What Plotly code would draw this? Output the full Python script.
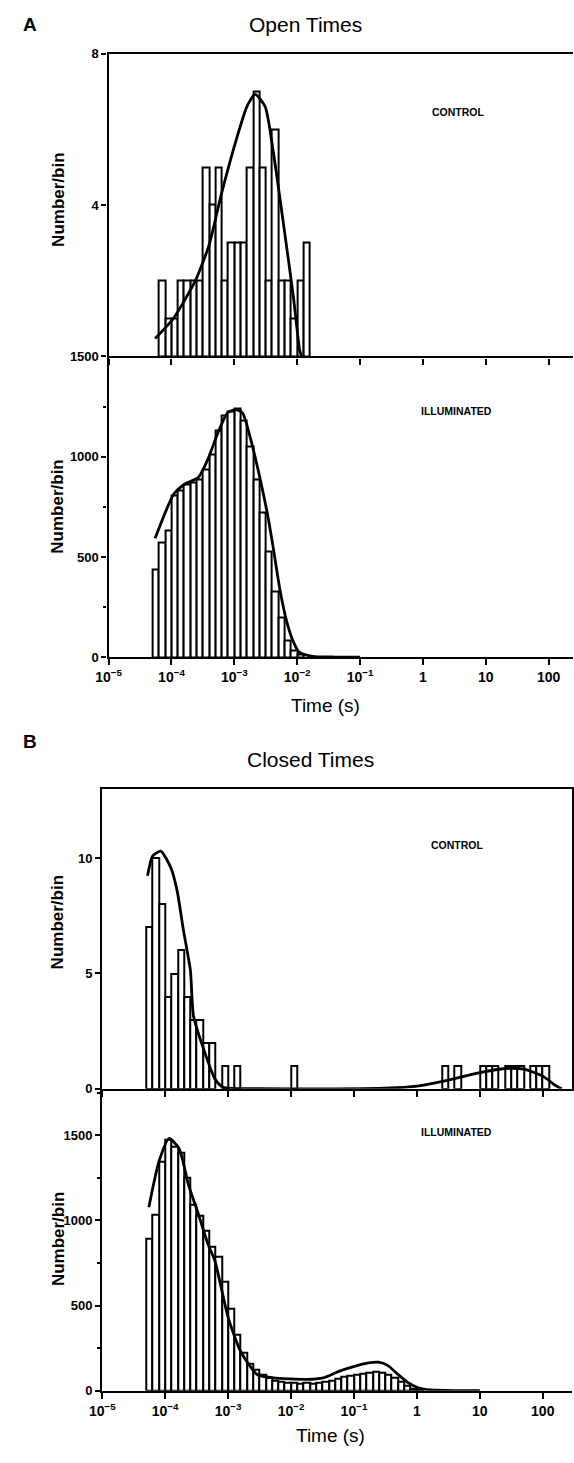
import numpy as np
import plotly.graph_objects as go

W, H = 574, 1463

# ---------------- data (x in log10 seconds) ----------------
BIN_WIDTH = 0.1  # decades per histogram bin

tick_exponents = [-5, -4, -3, -2, -1, 0, 1, 2]
tick_labels = ["10<sup>−5</sup>", "10<sup>−4</sup>", "10<sup>−3</sup>", "10<sup>−2</sup>",
               "10<sup>−1</sup>", "1", "10", "100"]

# Panel A - open times, control
open_ctrl_first_bin = -4.2
open_ctrl_counts = [2, 1, 1, 2, 2, 2, 2, 5, 4, 5, 2, 3, 3, 3, 5, 7, 5, 2, 6, 2, 2, 1, 2, 3]
open_ctrl_fit_logt = [-4.26, -3.97, -3.62, -3.40, -3.21, -2.95, -2.80, -2.67, -2.51, -2.38,
                      -2.21, -2.06, -1.96, -1.93]
open_ctrl_fit = [0.47, 1.0, 2.0, 2.95, 4.26, 5.83, 6.6, 6.92, 6.6, 5.4, 3.4, 1.57, 0.16, 0.0]

# Panel A - open times, illuminated
open_illum_first_bin = -4.3
open_illum_counts = [437, 575, 634, 806, 831, 862, 870, 887, 936, 1010, 1132, 1206, 1224, 1239,
                     1181, 1052, 887, 723, 526, 329, 198, 84, 34, 14]
open_illum_fit_logt = [-4.26, -3.96, -3.78, -3.57, -3.42, -3.26, -3.11, -2.98, -2.87, -2.74,
                       -2.59, -2.48, -2.38, -2.28, -2.17, -2.07, -1.97, -1.76, -1.4, -1.0]
open_illum_fit = [593, 815, 865, 898, 988, 1120, 1218, 1235, 1218, 1087,
                  890, 725, 544, 347, 183, 84, 26, 5, 1, 0]

# Panel B - closed times, control
closed_ctrl_first_bin = -4.3
closed_ctrl_counts = [7, 10, 8, 4, 5, 6, 4, 3, 3, 2, 2, 0, 1, 0, 1, 0, 0, 0, 0, 0,
                      0, 0, 0, 1, 0, 0, 0, 0, 0, 0, 0, 0, 0, 0, 0, 0, 0, 0, 0, 0,
                      0, 0, 0, 0, 0, 0, 0, 1, 0, 1, 0, 0, 0, 1, 1, 1, 0, 1, 1, 1,
                      0, 1, 1, 1]
closed_ctrl_fit_logt = [-4.28, -4.20, -4.07, -3.91, -3.81, -3.71, -3.60, -3.55, -3.37, -3.21,
                        -3.08, -2.5, -1.5, -0.5, 0.0, 0.5, 1.0, 1.4, 1.7, 2.0, 2.2, 2.3]
closed_ctrl_fit = [9.23, 10.09, 10.3, 9.58, 8.58, 6.87, 5.15, 3.15, 1.57, 0.43,
                   0.07, 0.01, 0.0, 0.03, 0.12, 0.38, 0.7, 0.88, 0.85, 0.55, 0.15, 0.0]

# Panel B - closed times, illuminated
closed_illum_first_bin = -4.3
closed_illum_counts = [890, 1035, 1345, 1471, 1432, 1400, 1250, 1093, 1025, 938, 843, 785,
                       640, 480, 330, 220, 160, 125, 95, 75, 60, 50, 45, 45, 42, 45, 42, 45,
                       50, 60, 70, 80, 90, 95, 100, 105, 110, 105, 95, 75, 50, 28, 12, 4]
closed_illum_fit_logt = [-4.26, -4.10, -3.94, -3.78, -3.63, -3.47, -3.32, -3.21, -3.0, -2.8,
                         -2.54, -2.28, -1.75, -1.49, -1.23, -0.98, -0.77, -0.61, -0.46, -0.30,
                         -0.14, 0.02, 0.22, 0.6, 1.0]
closed_illum_fit = [1077, 1345, 1481, 1423, 1209, 1035, 860, 763, 430, 230,
                    95, 75, 66, 75, 115, 144, 163, 167, 147, 95,
                    47, 17, 4, 0, 0]


def centers(first, counts):
    return [first + BIN_WIDTH * (i + 0.5) for i in range(len(counts))]


def py(p):  # pixel from top -> paper fraction
    return 1 - p / H


def px(p):
    return p / W


FONT = "Liberation Sans, Arial, sans-serif"

fig = go.Figure()

panels = [
    ("x", "y", open_ctrl_first_bin, open_ctrl_counts, open_ctrl_fit_logt, open_ctrl_fit),
    ("x2", "y2", open_illum_first_bin, open_illum_counts, open_illum_fit_logt, open_illum_fit),
    ("x3", "y3", closed_ctrl_first_bin, closed_ctrl_counts, closed_ctrl_fit_logt, closed_ctrl_fit),
    ("x4", "y4", closed_illum_first_bin, closed_illum_counts, closed_illum_fit_logt, closed_illum_fit),
]

for xa, ya, first, counts, fx, fy in panels:
    cts = [c if c > 0 else None for c in counts]
    fig.add_trace(go.Bar(
        x=centers(first, counts), y=cts, width=BIN_WIDTH,
        marker=dict(color="white", line=dict(color="black", width=2.0)),
        xaxis=xa, yaxis=ya, showlegend=False, hoverinfo="skip"))
    fig.add_trace(go.Scatter(
        x=fx, y=fy, mode="lines", line=dict(color="black", width=2.8, shape="spline", smoothing=0.6),
        xaxis=xa, yaxis=ya, showlegend=False, hoverinfo="skip", cliponaxis=False))

tickfont = dict(family=FONT, size=14, color="black")


def xaxis(domain, rng, labels, anchor, mirror=False):
    return dict(domain=domain, range=rng, anchor=anchor,
                tickmode="array", tickvals=tick_exponents,
                ticktext=[f"<b>{t}</b>" for t in tick_labels],
                showticklabels=labels,
                ticks="outside", ticklen=6, tickwidth=2, tickcolor="black",
                showline=True, linewidth=2.4, linecolor="black", mirror=mirror,
                showgrid=False, zeroline=False, tickfont=tickfont)


def yaxis(domain, rng, vals, anchor, minor=None, mirror=False):
    d = dict(domain=domain, range=rng, anchor=anchor,
             tickmode="array", tickvals=vals, ticktext=[f"<b>{v}</b>" for v in vals],
             ticks="outside", ticklen=5, tickwidth=2, tickcolor="black",
             showline=True, linewidth=2.4, linecolor="black", mirror=mirror,
             showgrid=False, zeroline=False, tickfont=dict(family=FONT, size=13, color="black"))
    if minor:
        d["minor"] = dict(dtick=minor, ticks="outside", ticklen=3, tickwidth=1.5, tickcolor="black")
    return d


A_dom = [px(98), 1.0]
A_rng = [-5, 2.388]
B_dom = [px(91.5), px(573)]
B_rng = [-5, 2.465]

fig.update_layout(
    width=W, height=H, margin=dict(l=0, r=0, t=0, b=0),
    paper_bgcolor="white", plot_bgcolor="white", bargap=0,
    xaxis=xaxis(A_dom, A_rng, False, "y", mirror=True),
    yaxis=yaxis([py(353), py(47)], [0, 8], [4, 8], "x"),
    xaxis2=xaxis(A_dom, A_rng, True, "y2"),
    yaxis2=yaxis([py(657), py(353)], [0, 1500], [0, 500, 1000, 1500], "x2", minor=250),
    xaxis3=xaxis(B_dom, B_rng, False, "y3", mirror=True),
    yaxis3=yaxis([py(1093), py(790)], [0, 13], [0, 5, 10], "x3", mirror=True),
    xaxis4=xaxis(B_dom, B_rng, True, "y4"),
    yaxis4=yaxis([py(1398), py(1093)], [0, 1773], [0, 500, 1000, 1500], "x4", minor=250),
)


def ann(text, x, y, size, bold=False, angle=0):
    fig.add_annotation(text=f"<b>{text}</b>" if bold else text, x=px(x), y=py(y),
                       xref="paper", yref="paper", xanchor="center", yanchor="middle",
                       showarrow=False, textangle=angle,
                       font=dict(family=FONT, size=size, color="black"))


ann("A", 17, 18, 19, bold=True)
ann("Open Times", 300, 18, 21)
ann("CONTROL", 456, 106, 10.5, bold=True)
ann("ILLUMINATED", 455, 408, 10.5, bold=True)
ann("Number/bin", 46, 195, 17, bold=True, angle=-90)
ann("Number/bin", 46, 505, 17, bold=True, angle=-90)
ann("Time (s)", 320, 706, 19)

ann("B", 17, 742, 19, bold=True)
ann("Closed Times", 305, 760, 21)
ann("CONTROL", 455, 847, 10.5, bold=True)
ann("ILLUMINATED", 455, 1137, 10.5, bold=True)
ann("Number/bin", 46, 925, 17, bold=True, angle=-90)
ann("Number/bin", 46, 1245, 17, bold=True, angle=-90)
ann("Time (s)", 325, 1443, 19)

fig.write_html("out.html")
